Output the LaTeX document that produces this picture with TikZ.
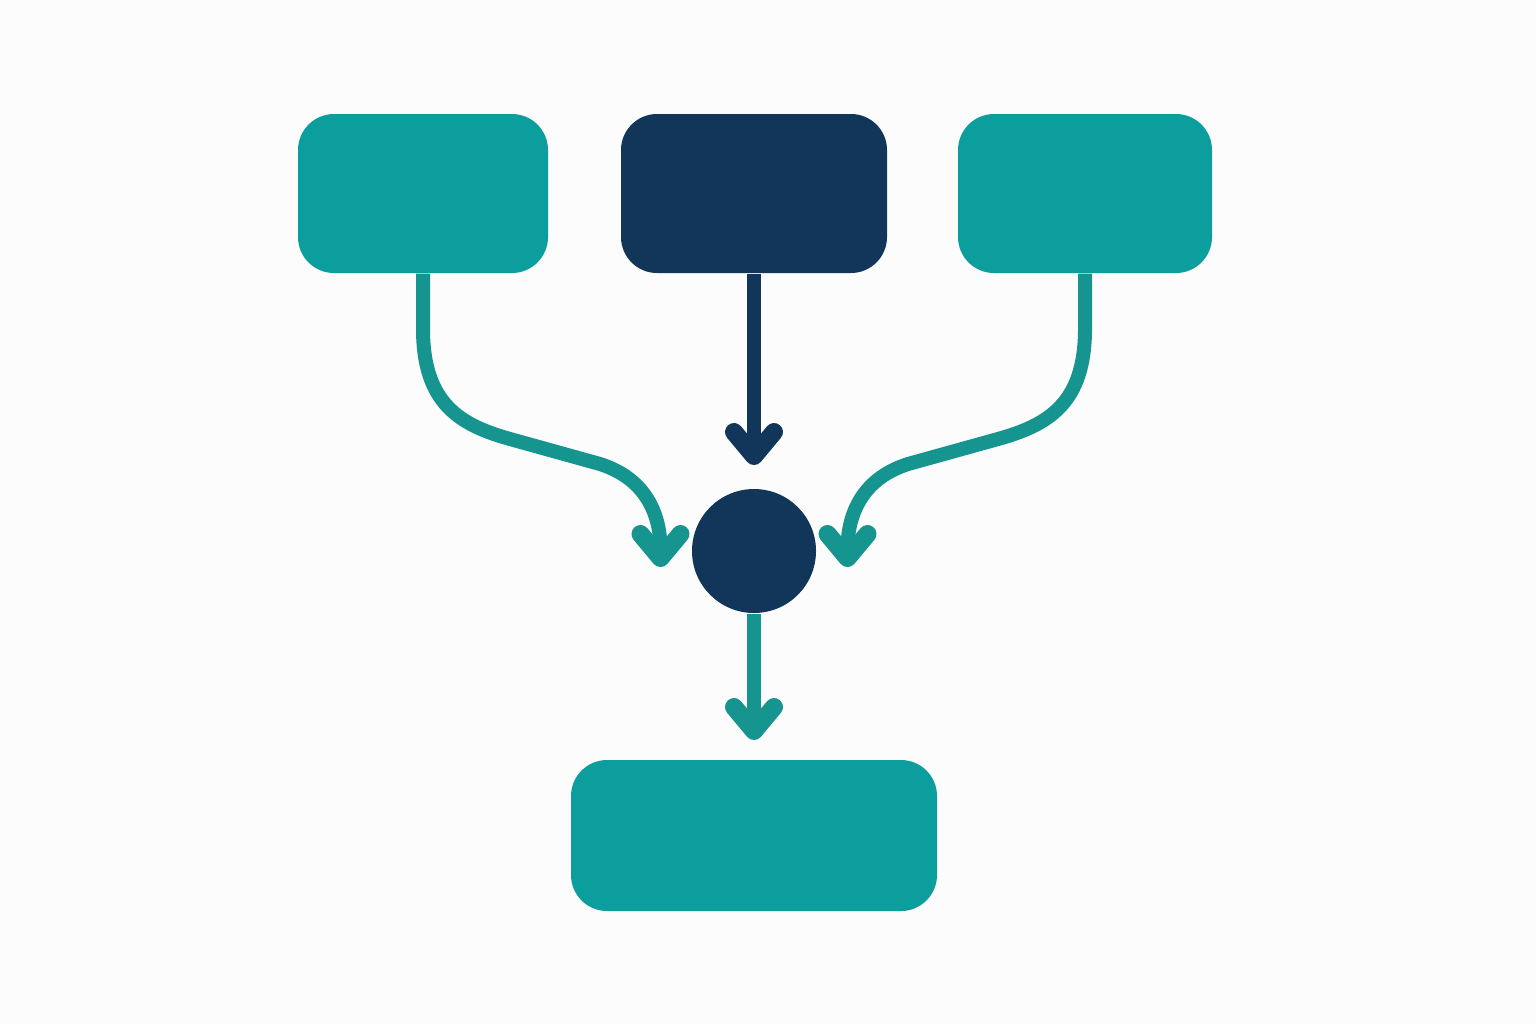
\documentclass[tikz,border=0pt]{standalone}
\usepackage{tikz}
\usepackage{xcolor}
\usetikzlibrary{arrows.meta, positioning, calc}
\definecolor{flowTeal}{RGB}{12, 158, 156}
\definecolor{flowLine}{RGB}{22, 148, 143}
\definecolor{flowNavy}{RGB}{18, 53, 90}
\definecolor{flowBack}{RGB}{252, 252, 252}

\begin{document}
\begin{tikzpicture}[
            block/.style={rectangle, rounded corners=0.36cm, minimum height=1.59cm, inner sep=0pt},
            hub/.style={circle, minimum size=1.24cm, inner sep=0pt, fill=flowNavy},
            arrow/.style={-{Straight Barb[length=0.24cm, width=0.40cm, line width=0.04cm 1, round]}, line width=0.14cm}
        ]
            \fill[flowBack] (0,0) rectangle (15.36,-10.24);
            \useasboundingbox (0,0) rectangle (15.36,-10.24);

            \node[block, fill=flowTeal, minimum width=2.50cm] (left) at (4.23,-1.935) {};
            \node[block, fill=flowNavy, minimum width=2.66cm] (mid) at (7.54,-1.935) {};
            \node[block, fill=flowTeal, minimum width=2.54cm] (right) at (10.85,-1.935) {};
            \node[hub] (merge) at (7.54,-5.51) {};
            \node[block, fill=flowTeal, minimum width=3.66cm, minimum height=1.51cm] (out) at (7.54,-8.355) {};

            \coordinate (lefttip) at (6.605,-5.67);
            \coordinate (righttip) at (8.475,-5.67);
            \coordinate (midtip) at (7.54,-4.65);
            \coordinate (outtip) at (7.54,-7.40);

            % inputs
            \draw[arrow, flowLine] (left.south) -- ++(0,-0.55)
                .. controls +(0,-0.75) and (4.6,-4.25) .. (5.1,-4.39) -- (6.0,-4.64)
                .. controls (6.5,-4.8) and (6.605,-5.2) .. (lefttip);
            \draw[arrow, flowLine] (right.south) -- ++(0,-0.55)
                .. controls +(0,-0.75) and (10.48,-4.25) .. (9.98,-4.39) -- (9.08,-4.64)
                .. controls (8.58,-4.8) and (8.475,-5.2) .. (righttip);
            \draw[arrow, flowNavy] (mid.south) -- (midtip);

            % output
            \draw[arrow, flowLine] (merge.south) -- (outtip);
        \end{tikzpicture}
\end{document}
